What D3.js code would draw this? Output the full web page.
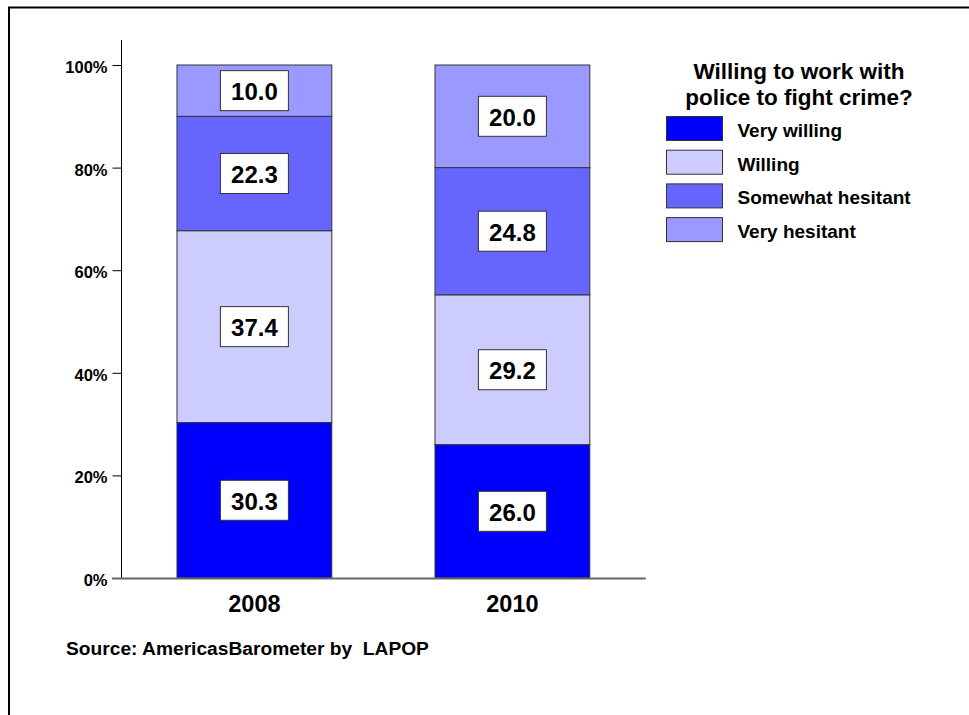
<!DOCTYPE html>
<html><head><meta charset="utf-8">
<script src="https://cdn.jsdelivr.net/npm/d3@7"></script>
<style>body{margin:0;background:#fff;} svg{display:block;font-family:"Liberation Sans",Arial,sans-serif;font-weight:bold;} text{white-space:pre;}</style>
</head><body>
<svg id="chart" width="969" height="715"></svg>
<script>
const years = ["2008", "2010"];
const seriesNames = ["Very willing", "Willing", "Somewhat hesitant", "Very hesitant"];
const veryWilling = [30.3, 26.0];
const willing = [37.4, 29.2];
const somewhatHesitant = [22.3, 24.8];
const veryHesitant = [10.0, 20.0];
const yTicks = [0, 20, 40, 60, 80, 100];
const colors = ["#0000FF", "#CCCCFF", "#6666FF", "#9999FF"];
const legendTitle = ["Willing to work with", "police to fight crime?"];
const sourceText = "Source: AmericasBarometer by  LAPOP";

const seriesValues = [veryWilling, willing, somewhatHesitant, veryHesitant];
const rows = years.map((y, i) => {
  const r = {year: y};
  seriesNames.forEach((s, k) => r[s] = seriesValues[k][i]);
  return r;
});
const stacked = d3.stack().keys(seriesNames)(rows);

const svg = d3.select("#chart");
svg.append("rect").attr("x", 9).attr("y", 7.5).attr("width", 1000).attr("height", 800)
  .attr("fill", "none").attr("stroke", "#000").attr("stroke-width", 2);

const x = d3.scaleBand().domain(years).range([121, 645.8]).paddingInner(0.4).paddingOuter(0.217);
const y = d3.scaleLinear().domain([0, 100]).range([578, 65]);

// y axis line
svg.append("line").attr("x1", 121.5).attr("x2", 121.5).attr("y1", 40).attr("y2", 578).attr("stroke", "#000").attr("stroke-width", 1);
const yAxis = d3.axisLeft(y).tickValues(yTicks).tickFormat(d => d + "%").tickSize(9).tickPadding(5);
const gy = svg.append("g").attr("transform", "translate(121.5,0)").call(yAxis);
gy.select(".domain").remove();
gy.selectAll("text").attr("font-size", 16.5).attr("font-weight", "bold").attr("fill", "#000")
  .attr("font-family", "Liberation Sans, Arial, sans-serif").attr("dy", "0.45em");
gy.selectAll("line").attr("stroke", "#000");

// bars
const layers = svg.append("g").selectAll("g").data(stacked).join("g").attr("fill", (d, i) => colors[i]);
layers.selectAll("rect").data(d => d).join("rect")
  .attr("x", d => x(d.data.year))
  .attr("width", x.bandwidth())
  .attr("y", d => y(d[1]))
  .attr("height", d => y(d[0]) - y(d[1]))
  .attr("stroke", "#333").attr("stroke-width", 1);

// baseline
svg.append("line").attr("x1", 112).attr("x2", 645.8).attr("y1", 578.5).attr("y2", 578.5).attr("stroke", "#666").attr("stroke-width", 2);

// value labels
stacked.forEach((layer, k) => {
  layer.forEach(d => {
    const cx = x(d.data.year) + x.bandwidth() / 2;
    const cy = (y(d[0]) + y(d[1])) / 2;
    const g = svg.append("g");
    g.append("rect").attr("x", cx - 34).attr("y", cy - 20).attr("width", 68).attr("height", 40)
      .attr("fill", "#fff").attr("stroke", "#333").attr("stroke-width", 1);
    g.append("text").attr("x", cx).attr("y", cy).attr("dy", "0.4em").attr("text-anchor", "middle")
      .attr("font-size", 24).attr("fill", "#000").text(d3.format(".1f")(d[1] - d[0]));
  });
});

// x axis labels
svg.append("g").selectAll("text").data(years).join("text")
  .attr("x", d => x(d) + x.bandwidth() / 2).attr("y", 612).attr("text-anchor", "middle")
  .attr("font-size", 23.5).attr("fill", "#000").text(d => d);

// source
svg.append("text").attr("x", 66).attr("y", 655).attr("font-size", 19.2).attr("fill", "#000").text(sourceText);

// legend
const lg = svg.append("g");
lg.selectAll("text.title").data(legendTitle).join("text").attr("class", "title")
  .attr("x", 799).attr("y", (d, i) => 79 + i * 26).attr("text-anchor", "middle")
  .attr("font-size", 22.5).attr("fill", "#000").text(d => d);
const items = lg.selectAll("g.item").data(seriesNames).join("g").attr("class", "item")
  .attr("transform", (d, i) => `translate(666.5,${116.5 + i * 33.7})`);
items.append("rect").attr("width", 56).attr("height", 24).attr("fill", (d, i) => colors[i])
  .attr("stroke", "#333").attr("stroke-width", 1);
items.append("text").attr("x", 71).attr("y", 12).attr("dy", "0.45em").attr("font-size", 19).attr("fill", "#000").text(d => d);
</script>
</body></html>
